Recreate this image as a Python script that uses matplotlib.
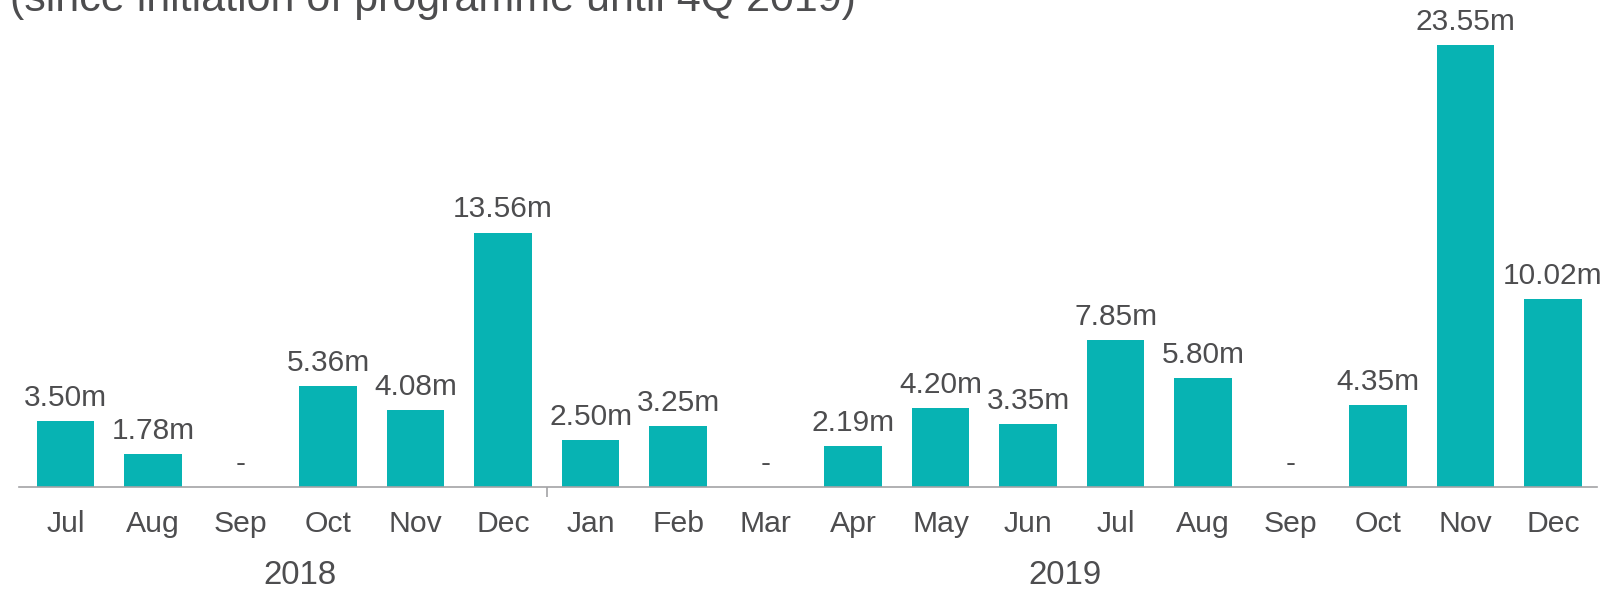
import numpy as np
import matplotlib.pyplot as plt
import matplotlib.transforms as mtransforms

plt.rcParams['font.family'] = ['Liberation Sans', 'DejaVu Sans']

months = ['Jul', 'Aug', 'Sep', 'Oct', 'Nov', 'Dec',
          'Jan', 'Feb', 'Mar', 'Apr', 'May', 'Jun',
          'Jul', 'Aug', 'Sep', 'Oct', 'Nov', 'Dec']
values = [3.50, 1.78, 0.00, 5.36, 4.08, 13.56,
          2.50, 3.25, 0.00, 2.19, 4.20, 3.35,
          7.85, 5.80, 0.00, 4.35, 23.55, 10.02]
years = ['2018', '2019']
year_centers = [2.68, 11.42]
year_split = 5.5
title = '(since initiation of programme until 4Q 2019)'

teal = '#07B3B3'
txt = '#4D4D4F'
grey = '#A3A3A6'

fig = plt.figure(figsize=(16.09, 5.91), dpi=100)
ax = fig.add_axes([0, 0.176, 1, 0.824])

x = np.arange(len(values))
ax.bar(x, values, width=0.657, color=teal)

for xi, v in zip(x, values):
    lab = '-' if v == 0 else '%.2fm' % v
    ax.annotate(lab, (xi, v), xytext=(0, 6.5), textcoords='offset points',
                ha='center', va='bottom', fontsize=21.5, color=txt)

ax.set_xlim(-0.751, 17.64)
ax.set_ylim(0, 25.95)
for s in ['top', 'left', 'right']:
    ax.spines[s].set_visible(False)
ax.spines['bottom'].set_color(grey)
ax.spines['bottom'].set_linewidth(1.2)
ax.spines['bottom'].set_bounds(-0.53, 17.5)
ax.set_yticks([])
ax.set_xticks(x)
ax.set_xticklabels(months, fontsize=21.7, color=txt)
ax.tick_params(axis='x', which='major', length=0, pad=16.8)
ax.set_xticks([year_split], minor=True)
ax.tick_params(axis='x', which='minor', length=7.5, width=1.2, color=grey, direction='out')

trans = mtransforms.blended_transform_factory(ax.transData, fig.transFigure)
for yr, c in zip(years, year_centers):
    ax.text(c, 0.012, yr, transform=trans, ha='center', va='baseline',
            fontsize=23.8, color=txt)

fig.text(0.006, 0.981, title, ha='left', va='baseline', fontsize=31, color=txt)

fig.savefig('out.png', dpi=100)
